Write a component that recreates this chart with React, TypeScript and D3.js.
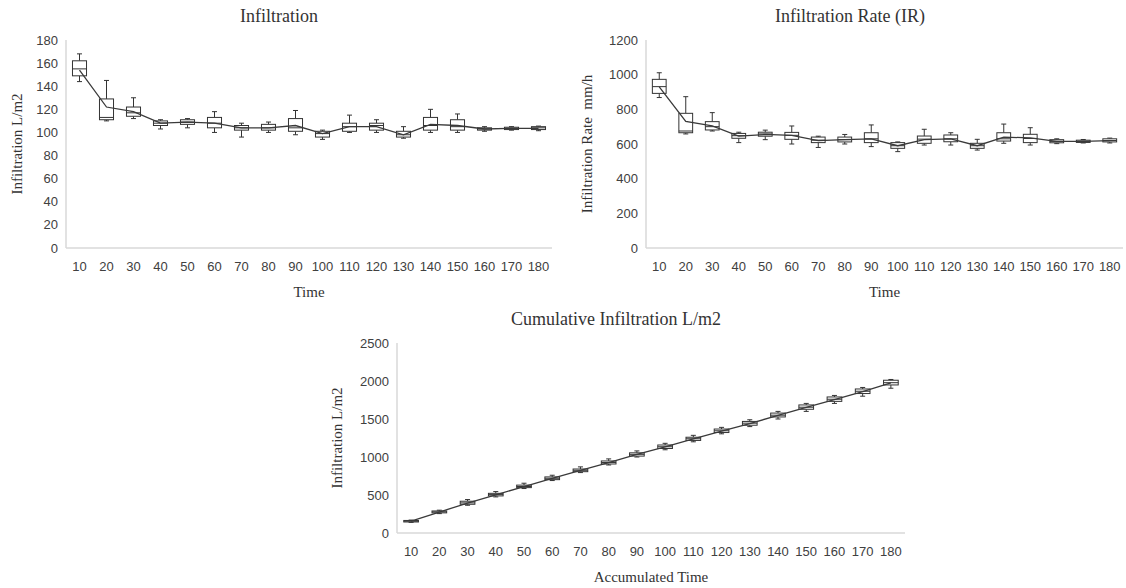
import React from "react";
import * as d3 from "d3";

// time steps (min)
const times = [10, 20, 30, 40, 50, 60, 70, 80, 90, 100, 110, 120, 130, 140, 150, 160, 170, 180];

// Infiltration L/m2
const infMin = [144, 110, 112, 103, 104, 100, 96, 100, 98, 94, 100, 100, 95, 100, 100, 101, 102, 101.5];
const infQ1 = [149, 111, 114, 106, 107, 104, 102, 102, 101, 96, 101, 102, 96, 102, 102, 102, 102.5, 102.5];
const infMed = [155, 113, 117, 108, 109, 108, 104, 104, 104, 99, 105, 106, 98, 106, 105, 103, 103.5, 104];
const infQ3 = [162, 129, 122, 110, 111, 113, 106, 107, 112, 101, 108, 108, 101, 113, 111, 104, 104.5, 105];
const infMax = [168, 145, 130, 111, 112, 118, 108, 109, 119, 102, 115, 111, 105, 120, 116, 105, 105, 105.5];
const infMean = [154, 122, 118, 108, 109, 108, 104, 104, 106, 99, 105, 105, 98, 107, 106, 103, 103.5, 103.5];

// Infiltration rate mm/h
const irMin = [868, 658, 675, 608, 625, 600, 580, 600, 585, 556, 594, 594, 565, 604, 594, 602, 606, 606];
const irQ1 = [892, 665, 681, 633, 645, 627, 608, 612, 608, 575, 604, 613, 575, 617, 608, 607, 609, 612];
const irMed = [931, 675, 700, 648, 658, 650, 622, 625, 630, 590, 628, 630, 590, 630, 632, 615, 615, 620];
const irQ3 = [973, 777, 729, 661, 668, 667, 640, 640, 665, 608, 646, 652, 604, 665, 656, 625, 622, 630];
const irMax = [1011, 873, 781, 668, 680, 704, 645, 655, 710, 612, 685, 665, 627, 715, 694, 630, 626, 634];
const irMean = [930, 730, 705, 645, 655, 650, 620, 625, 630, 590, 625, 630, 590, 640, 635, 615, 615, 620];

// Cumulative infiltration L/m2
const cumMin = [140, 255, 365, 475, 585, 690, 795, 895, 1000, 1095, 1200, 1305, 1400, 1500, 1600, 1705, 1800, 1905];
const cumQ1 = [145, 265, 378, 488, 597, 702, 807, 908, 1012, 1112, 1218, 1322, 1418, 1527, 1628, 1732, 1835, 1948];
const cumMed = [155, 278, 396, 505, 612, 720, 825, 928, 1035, 1135, 1240, 1345, 1445, 1550, 1655, 1760, 1865, 1978];
const cumQ3 = [165, 290, 418, 522, 630, 738, 842, 948, 1055, 1158, 1260, 1368, 1468, 1578, 1685, 1790, 1895, 2010];
const cumMax = [170, 300, 440, 545, 655, 760, 870, 975, 1080, 1180, 1285, 1390, 1490, 1600, 1705, 1810, 1915, 2020];
const cumMean = [155, 276, 394, 502, 611, 719, 823, 927, 1033, 1132, 1237, 1342, 1440, 1547, 1653, 1756, 1860, 1975];

const infTicks = [0, 20, 40, 60, 80, 100, 120, 140, 160, 180];
const irTicks = [0, 200, 400, 600, 800, 1000, 1200];
const cumTicks = [0, 500, 1000, 1500, 2000, 2500];

const sans = "'Liberation Sans', Arial, sans-serif";
const serif = "'Liberation Serif', 'Times New Roman', serif";

function BoxChart(props) {
  const { x0, x1, y0, y1, yTicks, min, q1, med, q3, max, mean,
    title, titleX, titleY, xTitle, xTitleY, yTitle, yTitleX } = props;

  const x = d3.scaleBand().domain(times.map(String)).range([x0, x1]).padding(0);
  const y = d3.scaleLinear().domain([0, yTicks[yTicks.length - 1]]).range([y0, y1]);
  const bw = x.bandwidth() * 0.52;
  const cap = 2.5;

  const meanLine = d3.line()
    .x((d, i) => x(String(times[i])) + x.bandwidth() / 2)
    .y(d => y(d));

  return (
    <g>
      <text x={titleX} y={titleY} textAnchor="middle" fontFamily={serif} fontSize={18} fill="#333">{title}</text>
      {/* axes */}
      <line x1={x0} x2={x1} y1={y0} y2={y0} stroke="#d9d9d9" strokeWidth={1.5} />
      <line x1={x0} x2={x0} y1={y0} y2={y1} stroke="#d9d9d9" strokeWidth={1.5} />
      {yTicks.map(t => (
        <text key={t} x={x0 - 8} y={y(t)} dy="0.35em" textAnchor="end" fontFamily={sans} fontSize={13} fill="#404040">{t}</text>
      ))}
      {times.map(t => (
        <text key={t} x={x(String(t)) + x.bandwidth() / 2} y={y0 + 23} textAnchor="middle" fontFamily={sans} fontSize={13} fill="#404040">{t}</text>
      ))}
      <text x={(x0 + x1) / 2} y={xTitleY} textAnchor="middle" fontFamily={serif} fontSize={15} fill="#333">{xTitle}</text>
      <text transform={`translate(${yTitleX},${(y0 + y1) / 2}) rotate(-90)`} dy="0.35em" textAnchor="middle"
        fontFamily={serif} fontSize={15} fill="#333" style={{ whiteSpace: "pre" }}>{yTitle}</text>

      {/* boxes */}
      {times.map((t, i) => {
        const cx = x(String(t)) + x.bandwidth() / 2;
        return (
          <g key={t} stroke="#333" strokeWidth={1} fill="none">
            <line x1={cx} x2={cx} y1={y(max[i])} y2={y(q3[i])} />
            <line x1={cx} x2={cx} y1={y(q1[i])} y2={y(min[i])} />
            <line x1={cx - cap} x2={cx + cap} y1={y(max[i])} y2={y(max[i])} />
            <line x1={cx - cap} x2={cx + cap} y1={y(min[i])} y2={y(min[i])} />
            <rect x={cx - bw / 2} y={y(q3[i])} width={bw} height={Math.max(1, y(q1[i]) - y(q3[i]))} fill="#fff" />
            <line x1={cx - bw / 2} x2={cx + bw / 2} y1={y(med[i])} y2={y(med[i])} />
          </g>
        );
      })}
      <path d={meanLine(mean)} fill="none" stroke="#3a3a3a" strokeWidth={1.3} />
    </g>
  );
}

export default function App() {
  return (
    <svg width={1126} height={588} style={{ position: "absolute", left: 0, top: 0, background: "#fff" }}>
      <BoxChart x0={66} x1={552} y0={248} y1={40} yTicks={infTicks}
        min={infMin} q1={infQ1} med={infMed} q3={infQ3} max={infMax} mean={infMean}
        title="Infiltration" titleX={279} titleY={22}
        xTitle="Time" xTitleY={297} yTitle="Infiltration L/m2" yTitleX={17} />
      <BoxChart x0={646} x1={1123} y0={248} y1={40} yTicks={irTicks}
        min={irMin} q1={irQ1} med={irMed} q3={irQ3} max={irMax} mean={irMean}
        title="Infiltration Rate (IR)" titleX={850} titleY={22}
        xTitle="Time" xTitleY={297} yTitle="Infiltration Rate  mm/h" yTitleX={587} />
      <BoxChart x0={397} x1={905} y0={533} y1={343} yTicks={cumTicks}
        min={cumMin} q1={cumQ1} med={cumMed} q3={cumQ3} max={cumMax} mean={cumMean}
        title="Cumulative Infiltration L/m2" titleX={616} titleY={325}
        xTitle="Accumulated Time" xTitleY={582} yTitle="Infiltration L/m2" yTitleX={337} />
    </svg>
  );
}
